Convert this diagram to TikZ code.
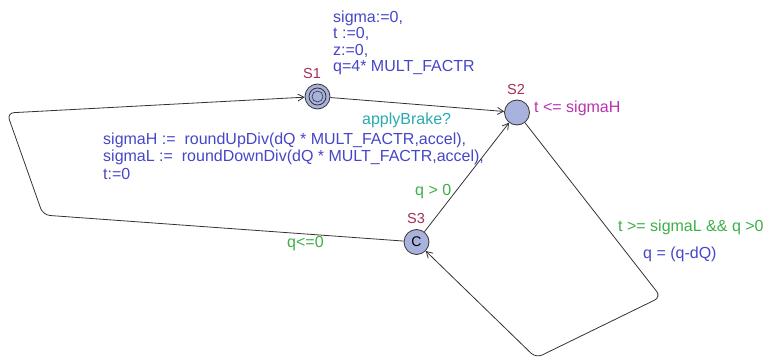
\documentclass[tikz,border=0pt]{standalone}
\usepackage{fontspec}
\setmainfont{Liberation Sans}
\usetikzlibrary{arrows.meta}
\definecolor{locfill}{RGB}{168,178,220}
\definecolor{assigncol}{RGB}{70,70,200}
\definecolor{guardcol}{RGB}{60,175,70}
\definecolor{synccol}{RGB}{40,170,175}
\definecolor{invcol}{RGB}{185,50,175}
\definecolor{namecol}{RGB}{165,45,90}
\tikzset{
  loc/.style={circle, draw=black!80, fill=locfill, line width=0.8pt, minimum size=25pt, inner sep=0pt, font=\fontsize{14}{14}\selectfont},
  edge/.style={draw=black!80, line width=0.8pt, -{Straight Barb[length=6pt,width=7pt]}, rounded corners=7pt},
  lbl/.style={inner sep=0pt, anchor=base west, align=left, font=\fontsize{16}{16.5}\selectfont},
  widelines/.style={font=\fontsize{16}{17.5}\selectfont},
  assign/.style={lbl, text=assigncol},
  guard/.style={lbl, text=guardcol},
  sync/.style={lbl, text=synccol},
  inv/.style={lbl, text=invcol},
  lname/.style={inner sep=0pt, anchor=base, text=namecol, font=\fontsize{14.5}{14.5}\selectfont},
}
\begin{document}
\begin{tikzpicture}[x=1pt, y=-1pt]
\useasboundingbox (0,0) rectangle (764,361);

% locations (S1 is the initial one, S3 is committed)
\node[loc] (s1) at (317.5,96.5) {};
\draw[black!80, line width=0.8pt] (s1.center) circle (8.5pt);
\draw[black!80, line width=0.6pt] (s1.center) circle (5.5pt);
\node[loc] (s2) at (517,112.5) {};
\node[loc] (s3) at (416.5,242) {C};

% location names and invariant
\node[lname] (n1) at (312,79) {S1};
\node[lname] (n2) at (516,95) {S2};
\node[lname] (n3) at (416,223) {S3};
\node[inv] (i2) at (534,113) {t <= sigmaH};

% bend points of the longer edges
\coordinate (a1) at (43,215);
\coordinate (a2) at (7,113);
\coordinate (b1) at (661,297);
\coordinate (b2) at (536,358);

% transitions
\draw[edge] (s1) -- (s2);
\draw[edge] (s3) -- (s2);
\draw[edge] (s3) -- (a1) -- (a2) -- (s1);
\draw[edge] (s2) -- (b1) -- (b2) -- (s3);

% labels (a multi-line label is placed by the baseline of its last line)
\node[assign] (u1) at (333,71.5) {sigma:=0,\\t :=0,\\z:=0,\\q=4* MULT\_FACTR};
\node[sync] (sy) at (362,124.5) {applyBrake?};
\node[assign, widelines] (u2) at (103,179) {sigmaH :=\ \ roundUpDiv(dQ * MULT\_FACTR,accel),\\sigmaL :=\ \ roundDownDiv(dQ * MULT\_FACTR,accel),\\t:=0};
\node[guard] (g1) at (415,195) {q > 0};
\node[guard] (g2) at (287,247) {q<=0};
\node[guard] (g3) at (618,231) {t >= sigmaL \&\& q >0};
\node[assign] (u3) at (643,258) {q = (q-dQ)};
\end{tikzpicture}
\end{document}
